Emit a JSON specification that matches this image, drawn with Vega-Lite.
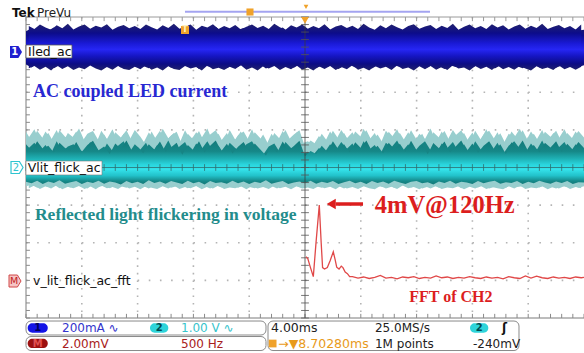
{
"$schema":"https://vega.github.io/schema/vega-lite/v6.json",
"width":584,"height":353,"autosize":{"type":"none"},"padding":0,
"background":"white",
"config":{"view":{"stroke":null}},
"datasets":{
"wave":[
{"x":0,"b1":3.62,"b2":2.74,"t1":0.95,"t2":0.62,"t3":-0.38,"t4":-0.50},
{"x":0.1,"b1":3.70,"b2":2.66,"t1":0.70,"t2":0.45,"t3":-0.42,"t4":-0.46},
{"x":0.2,"b1":3.58,"b2":2.78,"t1":0.98,"t2":0.70,"t3":-0.35,"t4":-0.54},
{"x":0.3,"b1":3.68,"b2":2.70,"t1":0.78,"t2":0.50,"t3":-0.44,"t4":-0.48},
{"x":0.4,"b1":3.64,"b2":2.75,"t1":0.92,"t2":0.58,"t3":-0.37,"t4":-0.52},
{"x":0.5,"b1":3.72,"b2":2.64,"t1":0.66,"t2":0.40,"t3":-0.41,"t4":-0.45},
{"x":0.6,"b1":3.60,"b2":2.72,"t1":0.99,"t2":0.66,"t3":-0.34,"t4":-0.55},
{"x":0.7,"b1":3.66,"b2":2.77,"t1":0.82,"t2":0.52,"t3":-0.43,"t4":-0.49},
{"x":0.8,"b1":3.70,"b2":2.68,"t1":0.74,"t2":0.44,"t3":-0.39,"t4":-0.53},
{"x":0.9,"b1":3.59,"b2":2.73,"t1":0.96,"t2":0.68,"t3":-0.36,"t4":-0.47},
{"x":1.0,"b1":3.67,"b2":2.65,"t1":0.68,"t2":0.42,"t3":-0.44,"t4":-0.51},
{"x":1.1,"b1":3.73,"b2":2.76,"t1":0.90,"t2":0.60,"t3":-0.38,"t4":-0.56},
{"x":1.2,"b1":3.61,"b2":2.70,"t1":0.97,"t2":0.71,"t3":-0.41,"t4":-0.46},
{"x":1.3,"b1":3.69,"b2":2.63,"t1":0.72,"t2":0.46,"t3":-0.35,"t4":-0.52},
{"x":1.4,"b1":3.63,"b2":2.74,"t1":0.88,"t2":0.56,"t3":-0.43,"t4":-0.48},
{"x":1.5,"b1":3.71,"b2":2.69,"t1":0.62,"t2":0.36,"t3":-0.37,"t4":-0.55},
{"x":1.6,"b1":3.58,"b2":2.78,"t1":0.94,"t2":0.64,"t3":-0.40,"t4":-0.47},
{"x":1.7,"b1":3.66,"b2":2.66,"t1":0.80,"t2":0.50,"t3":-0.45,"t4":-0.50},
{"x":1.8,"b1":3.62,"b2":2.72,"t1":0.99,"t2":0.72,"t3":-0.36,"t4":-0.54},
{"x":1.9,"b1":3.70,"b2":2.67,"t1":0.70,"t2":0.44,"t3":-0.42,"t4":-0.46},
{"x":2.0,"b1":3.60,"b2":2.75,"t1":0.86,"t2":0.55,"t3":-0.38,"t4":-0.53},
{"x":2.1,"b1":3.68,"b2":2.70,"t1":0.64,"t2":0.38,"t3":-0.44,"t4":-0.49},
{"x":2.2,"b1":3.64,"b2":2.64,"t1":0.93,"t2":0.62,"t3":-0.34,"t4":-0.56},
{"x":2.3,"b1":3.57,"b2":2.73,"t1":0.76,"t2":0.48,"t3":-0.41,"t4":-0.47},
{"x":2.4,"b1":3.66,"b2":2.68,"t1":0.98,"t2":0.69,"t3":-0.37,"t4":-0.51},
{"x":2.5,"b1":3.72,"b2":2.77,"t1":0.69,"t2":0.42,"t3":-0.43,"t4":-0.45},
{"x":2.6,"b1":3.60,"b2":2.65,"t1":0.85,"t2":0.54,"t3":-0.36,"t4":-0.54},
{"x":2.7,"b1":3.67,"b2":2.71,"t1":0.95,"t2":0.66,"t3":-0.40,"t4":-0.50},
{"x":2.8,"b1":3.63,"b2":2.76,"t1":0.60,"t2":0.34,"t3":-0.44,"t4":-0.48},
{"x":2.9,"b1":3.70,"b2":2.69,"t1":0.90,"t2":0.60,"t3":-0.35,"t4":-0.55},
{"x":3.0,"b1":3.58,"b2":2.74,"t1":0.74,"t2":0.46,"t3":-0.42,"t4":-0.46},
{"x":3.1,"b1":3.65,"b2":2.62,"t1":0.97,"t2":0.70,"t3":-0.38,"t4":-0.52},
{"x":3.2,"b1":3.69,"b2":2.72,"t1":0.66,"t2":0.40,"t3":-0.45,"t4":-0.49},
{"x":3.3,"b1":3.61,"b2":2.67,"t1":0.88,"t2":0.58,"t3":-0.36,"t4":-0.56},
{"x":3.4,"b1":3.74,"b2":2.75,"t1":0.99,"t2":0.72,"t3":-0.41,"t4":-0.47},
{"x":3.5,"b1":3.62,"b2":2.70,"t1":0.72,"t2":0.44,"t3":-0.39,"t4":-0.53},
{"x":3.6,"b1":3.68,"b2":2.64,"t1":0.92,"t2":0.63,"t3":-0.43,"t4":-0.50},
{"x":3.7,"b1":3.59,"b2":2.73,"t1":0.63,"t2":0.37,"t3":-0.35,"t4":-0.45},
{"x":3.8,"b1":3.66,"b2":2.68,"t1":0.86,"t2":0.55,"t3":-0.42,"t4":-0.54},
{"x":3.9,"b1":3.71,"b2":2.76,"t1":0.96,"t2":0.68,"t3":-0.37,"t4":-0.48},
{"x":4.0,"b1":3.60,"b2":2.66,"t1":0.70,"t2":0.42,"t3":-0.44,"t4":-0.52},
{"x":4.1,"b1":3.67,"b2":2.71,"t1":0.94,"t2":0.64,"t3":-0.38,"t4":-0.55},
{"x":4.2,"b1":3.63,"b2":2.74,"t1":0.78,"t2":0.48,"t3":-0.41,"t4":-0.47},
{"x":4.3,"b1":3.70,"b2":2.63,"t1":0.58,"t2":0.32,"t3":-0.34,"t4":-0.51},
{"x":4.4,"b1":3.58,"b2":2.70,"t1":0.90,"t2":0.58,"t3":-0.43,"t4":-0.49},
{"x":4.5,"b1":3.66,"b2":2.77,"t1":0.68,"t2":0.40,"t3":-0.39,"t4":-0.56},
{"x":4.6,"b1":3.72,"b2":2.67,"t1":0.97,"t2":0.69,"t3":-0.36,"t4":-0.46},
{"x":4.7,"b1":3.61,"b2":2.72,"t1":0.74,"t2":0.45,"t3":-0.44,"t4":-0.53},
{"x":4.8,"b1":3.68,"b2":2.65,"t1":0.88,"t2":0.57,"t3":-0.40,"t4":-0.48},
{"x":4.9,"b1":3.64,"b2":2.74,"t1":0.99,"t2":0.71,"t3":-0.37,"t4":-0.52},
{"x":5.0,"b1":3.70,"b2":2.69,"t1":0.55,"t2":0.30,"t3":-0.42,"t4":-0.55},
{"x":5.1,"b1":3.59,"b2":2.76,"t1":0.72,"t2":0.44,"t3":-0.35,"t4":-0.47},
{"x":5.2,"b1":3.67,"b2":2.64,"t1":0.62,"t2":0.36,"t3":-0.43,"t4":-0.50},
{"x":5.3,"b1":3.62,"b2":2.71,"t1":0.90,"t2":0.58,"t3":-0.38,"t4":-0.54},
{"x":5.4,"b1":3.73,"b2":2.67,"t1":0.70,"t2":0.42,"t3":-0.41,"t4":-0.46},
{"x":5.5,"b1":3.60,"b2":2.75,"t1":0.98,"t2":0.70,"t3":-0.36,"t4":-0.52},
{"x":5.6,"b1":3.68,"b2":2.62,"t1":0.76,"t2":0.48,"t3":-0.44,"t4":-0.49},
{"x":5.7,"b1":3.65,"b2":2.70,"t1":0.92,"t2":0.62,"t3":-0.39,"t4":-0.56},
{"x":5.8,"b1":3.71,"b2":2.73,"t1":0.66,"t2":0.40,"t3":-0.35,"t4":-0.48},
{"x":5.9,"b1":3.58,"b2":2.66,"t1":0.96,"t2":0.67,"t3":-0.42,"t4":-0.51},
{"x":6.0,"b1":3.66,"b2":2.74,"t1":0.82,"t2":0.52,"t3":-0.38,"t4":-0.53},
{"x":6.1,"b1":3.70,"b2":2.68,"t1":0.99,"t2":0.72,"t3":-0.44,"t4":-0.46},
{"x":6.2,"b1":3.61,"b2":2.63,"t1":0.70,"t2":0.43,"t3":-0.36,"t4":-0.55},
{"x":6.3,"b1":3.69,"b2":2.72,"t1":0.88,"t2":0.58,"t3":-0.41,"t4":-0.49},
{"x":6.4,"b1":3.63,"b2":2.77,"t1":0.64,"t2":0.38,"t3":-0.37,"t4":-0.52},
{"x":6.5,"b1":3.74,"b2":2.65,"t1":0.95,"t2":0.66,"t3":-0.43,"t4":-0.47},
{"x":6.6,"b1":3.60,"b2":2.71,"t1":0.78,"t2":0.49,"t3":-0.35,"t4":-0.54},
{"x":6.7,"b1":3.67,"b2":2.68,"t1":0.92,"t2":0.63,"t3":-0.40,"t4":-0.50},
{"x":6.8,"b1":3.62,"b2":2.75,"t1":0.68,"t2":0.41,"t3":-0.44,"t4":-0.45},
{"x":6.9,"b1":3.70,"b2":2.64,"t1":0.99,"t2":0.71,"t3":-0.38,"t4":-0.53},
{"x":7.0,"b1":3.59,"b2":2.70,"t1":0.74,"t2":0.46,"t3":-0.36,"t4":-0.48},
{"x":7.1,"b1":3.68,"b2":2.73,"t1":0.90,"t2":0.60,"t3":-0.42,"t4":-0.56},
{"x":7.2,"b1":3.64,"b2":2.66,"t1":0.60,"t2":0.35,"t3":-0.39,"t4":-0.51},
{"x":7.3,"b1":3.71,"b2":2.76,"t1":0.94,"t2":0.65,"t3":-0.45,"t4":-0.47},
{"x":7.4,"b1":3.60,"b2":2.69,"t1":0.80,"t2":0.51,"t3":-0.37,"t4":-0.54},
{"x":7.5,"b1":3.66,"b2":2.62,"t1":0.97,"t2":0.69,"t3":-0.41,"t4":-0.49},
{"x":7.6,"b1":3.72,"b2":2.72,"t1":0.68,"t2":0.40,"t3":-0.35,"t4":-0.52},
{"x":7.7,"b1":3.58,"b2":2.67,"t1":0.86,"t2":0.56,"t3":-0.43,"t4":-0.46},
{"x":7.8,"b1":3.67,"b2":2.74,"t1":0.99,"t2":0.72,"t3":-0.38,"t4":-0.55},
{"x":7.9,"b1":3.63,"b2":2.70,"t1":0.72,"t2":0.44,"t3":-0.40,"t4":-0.50},
{"x":8.0,"b1":3.70,"b2":2.65,"t1":0.93,"t2":0.64,"t3":-0.44,"t4":-0.48},
{"x":8.1,"b1":3.61,"b2":2.73,"t1":0.65,"t2":0.39,"t3":-0.36,"t4":-0.53},
{"x":8.2,"b1":3.69,"b2":2.68,"t1":0.88,"t2":0.58,"t3":-0.42,"t4":-0.47},
{"x":8.3,"b1":3.64,"b2":2.76,"t1":0.98,"t2":0.70,"t3":-0.38,"t4":-0.56},
{"x":8.4,"b1":3.72,"b2":2.63,"t1":0.74,"t2":0.46,"t3":-0.35,"t4":-0.51},
{"x":8.5,"b1":3.59,"b2":2.71,"t1":0.91,"t2":0.62,"t3":-0.43,"t4":-0.49},
{"x":8.6,"b1":3.67,"b2":2.67,"t1":0.62,"t2":0.36,"t3":-0.39,"t4":-0.54},
{"x":8.7,"b1":3.62,"b2":2.74,"t1":0.96,"t2":0.67,"t3":-0.41,"t4":-0.46},
{"x":8.8,"b1":3.70,"b2":2.69,"t1":0.78,"t2":0.50,"t3":-0.36,"t4":-0.52},
{"x":8.9,"b1":3.65,"b2":2.64,"t1":0.99,"t2":0.72,"t3":-0.44,"t4":-0.50},
{"x":9.0,"b1":3.60,"b2":2.72,"t1":0.70,"t2":0.43,"t3":-0.38,"t4":-0.55},
{"x":9.1,"b1":3.68,"b2":2.77,"t1":0.90,"t2":0.60,"t3":-0.42,"t4":-0.48},
{"x":9.2,"b1":3.63,"b2":2.66,"t1":0.66,"t2":0.40,"t3":-0.35,"t4":-0.53},
{"x":9.3,"b1":3.71,"b2":2.70,"t1":0.95,"t2":0.66,"t3":-0.40,"t4":-0.47},
{"x":9.4,"b1":3.59,"b2":2.74,"t1":0.82,"t2":0.53,"t3":-0.43,"t4":-0.51},
{"x":9.5,"b1":3.66,"b2":2.65,"t1":0.98,"t2":0.70,"t3":-0.37,"t4":-0.56},
{"x":9.6,"b1":3.72,"b2":2.71,"t1":0.68,"t2":0.41,"t3":-0.41,"t4":-0.49},
{"x":9.7,"b1":3.61,"b2":2.68,"t1":0.92,"t2":0.63,"t3":-0.36,"t4":-0.52},
{"x":9.8,"b1":3.68,"b2":2.75,"t1":0.76,"t2":0.47,"t3":-0.44,"t4":-0.46},
{"x":9.9,"b1":3.64,"b2":2.67,"t1":0.97,"t2":0.68,"t3":-0.39,"t4":-0.54},
{"x":10.0,"b1":3.66,"b2":2.72,"t1":0.80,"t2":0.52,"t3":-0.40,"t4":-0.50}
],
"wave2":[
{"x":0.05,"b1":3.76,"b2":2.64,"t1":0.80,"t2":0.52,"t4":-0.55},
{"x":0.15,"b1":3.68,"b2":2.70,"t1":1.02,"t2":0.66,"t4":-0.48},
{"x":0.25,"b1":3.80,"b2":2.60,"t1":0.68,"t2":0.44,"t4":-0.57},
{"x":0.35,"b1":3.72,"b2":2.68,"t1":0.96,"t2":0.60,"t4":-0.50},
{"x":0.45,"b1":3.66,"b2":2.58,"t1":0.74,"t2":0.38,"t4":-0.56},
{"x":0.55,"b1":3.78,"b2":2.72,"t1":1.00,"t2":0.70,"t4":-0.47},
{"x":0.65,"b1":3.70,"b2":2.62,"t1":0.64,"t2":0.42,"t4":-0.58},
{"x":0.75,"b1":3.82,"b2":2.69,"t1":0.92,"t2":0.56,"t4":-0.51},
{"x":0.85,"b1":3.67,"b2":2.59,"t1":0.80,"t2":0.62,"t4":-0.55},
{"x":0.95,"b1":3.75,"b2":2.66,"t1":1.04,"t2":0.48,"t4":-0.49},
{"x":1.05,"b1":3.80,"b2":2.61,"t1":0.70,"t2":0.40,"t4":-0.57},
{"x":1.15,"b1":3.69,"b2":2.71,"t1":0.94,"t2":0.68,"t4":-0.50},
{"x":1.25,"b1":3.77,"b2":2.63,"t1":0.62,"t2":0.52,"t4":-0.58},
{"x":1.35,"b1":3.72,"b2":2.58,"t1":0.98,"t2":0.34,"t4":-0.48},
{"x":1.45,"b1":3.81,"b2":2.67,"t1":0.76,"t2":0.64,"t4":-0.55},
{"x":1.55,"b1":3.66,"b2":2.60,"t1":1.02,"t2":0.44,"t4":-0.52},
{"x":1.65,"b1":3.74,"b2":2.70,"t1":0.66,"t2":0.58,"t4":-0.57},
{"x":1.75,"b1":3.79,"b2":2.62,"t1":0.90,"t2":0.70,"t4":-0.47},
{"x":1.85,"b1":3.70,"b2":2.59,"t1":0.72,"t2":0.40,"t4":-0.56},
{"x":1.95,"b1":3.76,"b2":2.68,"t1":1.00,"t2":0.62,"t4":-0.51},
{"x":2.05,"b1":3.68,"b2":2.61,"t1":0.82,"t2":0.48,"t4":-0.58},
{"x":2.15,"b1":3.80,"b2":2.72,"t1":0.60,"t2":0.66,"t4":-0.49},
{"x":2.25,"b1":3.73,"b2":2.60,"t1":0.96,"t2":0.36,"t4":-0.54},
{"x":2.35,"b1":3.67,"b2":2.66,"t1":0.70,"t2":0.60,"t4":-0.57},
{"x":2.45,"b1":3.78,"b2":2.58,"t1":1.03,"t2":0.46,"t4":-0.50},
{"x":2.55,"b1":3.71,"b2":2.69,"t1":0.78,"t2":0.72,"t4":-0.56},
{"x":2.65,"b1":3.82,"b2":2.62,"t1":0.92,"t2":0.42,"t4":-0.48},
{"x":2.75,"b1":3.69,"b2":2.59,"t1":0.64,"t2":0.56,"t4":-0.57},
{"x":2.85,"b1":3.75,"b2":2.70,"t1":0.99,"t2":0.68,"t4":-0.52},
{"x":2.95,"b1":3.80,"b2":2.63,"t1":0.72,"t2":0.38,"t4":-0.55},
{"x":3.05,"b1":3.66,"b2":2.67,"t1":0.94,"t2":0.64,"t4":-0.49},
{"x":3.15,"b1":3.77,"b2":2.58,"t1":0.80,"t2":0.50,"t4":-0.58},
{"x":3.25,"b1":3.72,"b2":2.71,"t1":1.04,"t2":0.70,"t4":-0.51},
{"x":3.35,"b1":3.81,"b2":2.61,"t1":0.68,"t2":0.44,"t4":-0.56},
{"x":3.45,"b1":3.68,"b2":2.65,"t1":0.90,"t2":0.58,"t4":-0.48},
{"x":3.55,"b1":3.76,"b2":2.59,"t1":0.62,"t2":0.36,"t4":-0.57},
{"x":3.65,"b1":3.70,"b2":2.68,"t1":1.00,"t2":0.66,"t4":-0.53},
{"x":3.75,"b1":3.79,"b2":2.62,"t1":0.74,"t2":0.52,"t4":-0.55},
{"x":3.85,"b1":3.67,"b2":2.72,"t1":0.96,"t2":0.42,"t4":-0.50},
{"x":3.95,"b1":3.74,"b2":2.60,"t1":0.70,"t2":0.62,"t4":-0.58},
{"x":4.05,"b1":3.80,"b2":2.66,"t1":1.02,"t2":0.70,"t4":-0.49},
{"x":4.15,"b1":3.71,"b2":2.58,"t1":0.66,"t2":0.46,"t4":-0.56},
{"x":4.25,"b1":3.77,"b2":2.69,"t1":0.88,"t2":0.34,"t4":-0.52},
{"x":4.35,"b1":3.68,"b2":2.63,"t1":0.60,"t2":0.56,"t4":-0.57},
{"x":4.45,"b1":3.82,"b2":2.70,"t1":0.92,"t2":0.64,"t4":-0.48},
{"x":4.55,"b1":3.73,"b2":2.59,"t1":0.76,"t2":0.40,"t4":-0.55},
{"x":4.65,"b1":3.66,"b2":2.67,"t1":1.00,"t2":0.68,"t4":-0.51},
{"x":4.75,"b1":3.78,"b2":2.61,"t1":0.70,"t2":0.52,"t4":-0.58},
{"x":4.85,"b1":3.72,"b2":2.71,"t1":0.94,"t2":0.44,"t4":-0.50},
{"x":4.95,"b1":3.80,"b2":2.60,"t1":0.64,"t2":0.36,"t4":-0.56},
{"x":5.05,"b1":3.69,"b2":2.66,"t1":0.70,"t2":0.42,"t4":-0.53},
{"x":5.15,"b1":3.76,"b2":2.58,"t1":0.60,"t2":0.34,"t4":-0.57},
{"x":5.25,"b1":3.70,"b2":2.69,"t1":0.84,"t2":0.52,"t4":-0.49},
{"x":5.35,"b1":3.81,"b2":2.62,"t1":0.66,"t2":0.40,"t4":-0.55},
{"x":5.45,"b1":3.67,"b2":2.70,"t1":0.96,"t2":0.62,"t4":-0.51},
{"x":5.55,"b1":3.75,"b2":2.59,"t1":0.72,"t2":0.46,"t4":-0.58},
{"x":5.65,"b1":3.79,"b2":2.67,"t1":1.00,"t2":0.68,"t4":-0.48},
{"x":5.75,"b1":3.71,"b2":2.61,"t1":0.78,"t2":0.50,"t4":-0.56},
{"x":5.85,"b1":3.77,"b2":2.72,"t1":0.94,"t2":0.64,"t4":-0.52},
{"x":5.95,"b1":3.68,"b2":2.60,"t1":0.68,"t2":0.38,"t4":-0.57},
{"x":6.05,"b1":3.82,"b2":2.65,"t1":1.03,"t2":0.70,"t4":-0.50},
{"x":6.15,"b1":3.72,"b2":2.58,"t1":0.74,"t2":0.48,"t4":-0.55},
{"x":6.25,"b1":3.66,"b2":2.70,"t1":0.92,"t2":0.60,"t4":-0.58},
{"x":6.35,"b1":3.78,"b2":2.63,"t1":0.62,"t2":0.36,"t4":-0.49},
{"x":6.45,"b1":3.70,"b2":2.68,"t1":0.98,"t2":0.66,"t4":-0.56},
{"x":6.55,"b1":3.80,"b2":2.59,"t1":0.80,"t2":0.54,"t4":-0.51},
{"x":6.65,"b1":3.73,"b2":2.71,"t1":1.02,"t2":0.72,"t4":-0.57},
{"x":6.75,"b1":3.67,"b2":2.62,"t1":0.70,"t2":0.44,"t4":-0.48},
{"x":6.85,"b1":3.76,"b2":2.66,"t1":0.94,"t2":0.62,"t4":-0.55},
{"x":6.95,"b1":3.81,"b2":2.58,"t1":0.66,"t2":0.40,"t4":-0.52},
{"x":7.05,"b1":3.69,"b2":2.69,"t1":0.90,"t2":0.58,"t4":-0.58},
{"x":7.15,"b1":3.75,"b2":2.61,"t1":0.76,"t2":0.70,"t4":-0.50},
{"x":7.25,"b1":3.79,"b2":2.70,"t1":1.04,"t2":0.46,"t4":-0.56},
{"x":7.35,"b1":3.68,"b2":2.60,"t1":0.68,"t2":0.36,"t4":-0.49},
{"x":7.45,"b1":3.77,"b2":2.67,"t1":0.96,"t2":0.64,"t4":-0.57},
{"x":7.55,"b1":3.71,"b2":2.59,"t1":0.72,"t2":0.52,"t4":-0.53},
{"x":7.65,"b1":3.82,"b2":2.72,"t1":1.00,"t2":0.68,"t4":-0.55},
{"x":7.75,"b1":3.66,"b2":2.63,"t1":0.78,"t2":0.42,"t4":-0.50},
{"x":7.85,"b1":3.74,"b2":2.66,"t1":0.92,"t2":0.62,"t4":-0.58},
{"x":7.95,"b1":3.80,"b2":2.58,"t1":0.64,"t2":0.38,"t4":-0.51},
{"x":8.05,"b1":3.70,"b2":2.70,"t1":0.98,"t2":0.70,"t4":-0.56},
{"x":8.15,"b1":3.76,"b2":2.62,"t1":0.74,"t2":0.48,"t4":-0.49},
{"x":8.25,"b1":3.68,"b2":2.68,"t1":1.02,"t2":0.60,"t4":-0.57},
{"x":8.35,"b1":3.81,"b2":2.59,"t1":0.70,"t2":0.44,"t4":-0.52},
{"x":8.45,"b1":3.72,"b2":2.71,"t1":0.94,"t2":0.66,"t4":-0.55},
{"x":8.55,"b1":3.78,"b2":2.61,"t1":0.62,"t2":0.36,"t4":-0.58},
{"x":8.65,"b1":3.67,"b2":2.67,"t1":0.90,"t2":0.58,"t4":-0.50},
{"x":8.75,"b1":3.75,"b2":2.60,"t1":0.80,"t2":0.70,"t4":-0.56},
{"x":8.85,"b1":3.80,"b2":2.70,"t1":1.03,"t2":0.50,"t4":-0.48},
{"x":8.95,"b1":3.69,"b2":2.63,"t1":0.68,"t2":0.40,"t4":-0.57},
{"x":9.05,"b1":3.77,"b2":2.58,"t1":0.96,"t2":0.64,"t4":-0.53},
{"x":9.15,"b1":3.71,"b2":2.69,"t1":0.74,"t2":0.46,"t4":-0.55},
{"x":9.25,"b1":3.82,"b2":2.62,"t1":1.00,"t2":0.72,"t4":-0.50},
{"x":9.35,"b1":3.68,"b2":2.66,"t1":0.66,"t2":0.42,"t4":-0.58},
{"x":9.45,"b1":3.74,"b2":2.59,"t1":0.92,"t2":0.60,"t4":-0.51},
{"x":9.55,"b1":3.79,"b2":2.71,"t1":0.78,"t2":0.54,"t4":-0.56},
{"x":9.65,"b1":3.70,"b2":2.61,"t1":1.02,"t2":0.68,"t4":-0.49},
{"x":9.75,"b1":3.76,"b2":2.67,"t1":0.70,"t2":0.40,"t4":-0.57},
{"x":9.85,"b1":3.67,"b2":2.60,"t1":0.96,"t2":0.62,"t4":-0.52},
{"x":9.95,"b1":3.80,"b2":2.68,"t1":0.74,"t2":0.48,"t4":-0.55}
],
"fft":[
{"f":5.018,"a":-2.37},{"f":5.05,"a":-2.42},{"f":5.09,"a":-2.62},{"f":5.149,"a":-2.90},{"f":5.20,"a":-1.95},{"f":5.256,"a":-1.00},{"f":5.29,"a":-2.00},{"f":5.315,"a":-2.66},{"f":5.35,"a":-2.70},{"f":5.40,"a":-2.66},{"f":5.45,"a":-2.48},{"f":5.507,"a":-2.24},{"f":5.54,"a":-2.45},{"f":5.568,"a":-2.65},{"f":5.61,"a":-2.70},{"f":5.65,"a":-2.62},{"f":5.68,"a":-2.66},{"f":5.72,"a":-2.78},{"f":5.76,"a":-2.82},{"f":5.80,"a":-2.90},
{"f":5.85,"a":-2.90},{"f":5.95,"a":-2.94},{"f":6.05,"a":-2.91},{"f":6.15,"a":-2.95},{"f":6.25,"a":-2.92},{"f":6.35,"a":-2.87},{"f":6.45,"a":-2.94},{"f":6.55,"a":-2.92},{"f":6.65,"a":-2.96},{"f":6.75,"a":-2.91},{"f":6.85,"a":-2.93},{"f":6.95,"a":-2.90},{"f":7.05,"a":-2.95},{"f":7.15,"a":-2.92},{"f":7.25,"a":-2.94},{"f":7.35,"a":-2.88},{"f":7.45,"a":-2.93},{"f":7.55,"a":-2.91},{"f":7.65,"a":-2.95},{"f":7.75,"a":-2.92},{"f":7.85,"a":-2.94},{"f":7.95,"a":-2.90},{"f":8.05,"a":-2.93},{"f":8.15,"a":-2.95},{"f":8.25,"a":-2.91},{"f":8.35,"a":-2.94},{"f":8.45,"a":-2.92},{"f":8.55,"a":-2.96},{"f":8.65,"a":-2.90},{"f":8.75,"a":-2.93},{"f":8.85,"a":-2.95},{"f":8.95,"a":-2.88},{"f":9.05,"a":-2.94},{"f":9.15,"a":-2.89},{"f":9.25,"a":-2.93},{"f":9.35,"a":-2.95},{"f":9.45,"a":-2.91},{"f":9.55,"a":-2.94},{"f":9.65,"a":-2.92},{"f":9.75,"a":-2.95},{"f":9.85,"a":-2.91},{"f":9.95,"a":-2.93},{"f":10.0,"a":-2.92}
],
"tx":[{"p":0},{"p":0.2},{"p":0.4},{"p":0.6},{"p":0.8},{"p":1},{"p":1.2},{"p":1.4},{"p":1.6},{"p":1.8},{"p":2},{"p":2.2},{"p":2.4},{"p":2.6},{"p":2.8},{"p":3},{"p":3.2},{"p":3.4},{"p":3.6},{"p":3.8},{"p":4},{"p":4.2},{"p":4.4},{"p":4.6},{"p":4.8},{"p":5},{"p":5.2},{"p":5.4},{"p":5.6},{"p":5.8},{"p":6},{"p":6.2},{"p":6.4},{"p":6.6},{"p":6.8},{"p":7},{"p":7.2},{"p":7.4},{"p":7.6},{"p":7.8},{"p":8},{"p":8.2},{"p":8.4},{"p":8.6},{"p":8.8},{"p":9},{"p":9.2},{"p":9.4},{"p":9.6},{"p":9.8},{"p":10}],
"ty":[{"p":-4},{"p":-3.8},{"p":-3.6},{"p":-3.4},{"p":-3.2},{"p":-3},{"p":-2.8},{"p":-2.6},{"p":-2.4},{"p":-2.2},{"p":-2},{"p":-1.8},{"p":-1.6},{"p":-1.4},{"p":-1.2},{"p":-1},{"p":-0.8},{"p":-0.6},{"p":-0.4},{"p":-0.2},{"p":0},{"p":0.2},{"p":0.4},{"p":0.6},{"p":0.8},{"p":1},{"p":1.2},{"p":1.4},{"p":1.6},{"p":1.8},{"p":2},{"p":2.2},{"p":2.4},{"p":2.6},{"p":2.8},{"p":3},{"p":3.2},{"p":3.4},{"p":3.6},{"p":3.8},{"p":4}],
"gv":[{"g":1},{"g":2},{"g":3},{"g":4},{"g":6},{"g":7},{"g":8},{"g":9}],
"gh":[{"g":-3},{"g":-2},{"g":-1},{"g":1},{"g":2},{"g":3}]
},
"layer":[
{"data":{"name":"gv"},"mark":{"type":"rule","color":"#b4b4b4","strokeWidth":1.6,"strokeDash":[1.6,5.925]},
 "encoding":{"x":{"field":"g","type":"quantitative","scale":{"domain":[-0.466,10],"nice":false,"zero":false},"axis":null},"y":{"datum":4,"type":"quantitative","scale":{"domain":[-4.93,4.452],"nice":false,"zero":false},"axis":null},"y2":{"datum":-4}}},
{"data":{"name":"gh"},"mark":{"type":"rule","color":"#b4b4b4","strokeWidth":1.6,"strokeDash":[1.6,9.56]},
 "encoding":{"y":{"field":"g","type":"quantitative","scale":{"domain":[-4.93,4.452],"nice":false,"zero":false},"axis":null},"x":{"datum":0,"type":"quantitative","scale":{"domain":[-0.466,10],"nice":false,"zero":false},"axis":null},"x2":{"datum":10}}},
{"data":{"values":[{}]},"mark":{"type":"rule","color":"#9a9a9a","strokeWidth":1},
 "encoding":{"x":{"datum":0,"type":"quantitative","scale":{"domain":[-0.466,10],"nice":false,"zero":false},"axis":null},"x2":{"datum":10},"y":{"datum":4,"type":"quantitative","scale":{"domain":[-4.93,4.452],"nice":false,"zero":false},"axis":null}}},
{"data":{"values":[{}]},"mark":{"type":"rule","color":"#7a7a7a","strokeWidth":1},
 "encoding":{"x":{"datum":0,"type":"quantitative","scale":{"domain":[-0.466,10],"nice":false,"zero":false},"axis":null},"x2":{"datum":10},"y":{"datum":-4,"type":"quantitative","scale":{"domain":[-4.93,4.452],"nice":false,"zero":false},"axis":null}}},
{"data":{"values":[{}]},"mark":{"type":"rule","color":"#7a7a7a","strokeWidth":1},
 "encoding":{"x":{"datum":0,"type":"quantitative","scale":{"domain":[-0.466,10],"nice":false,"zero":false},"axis":null},"y":{"datum":4,"type":"quantitative","scale":{"domain":[-4.93,4.452],"nice":false,"zero":false},"axis":null},"y2":{"datum":-4}}},
{"data":{"name":"tx"},"mark":{"type":"rule","color":"#9a9a9a","strokeWidth":1},
 "encoding":{"x":{"field":"p","type":"quantitative","scale":{"domain":[-0.466,10],"nice":false,"zero":false},"axis":null},"y":{"datum":4,"type":"quantitative","scale":{"domain":[-4.93,4.452],"nice":false,"zero":false},"axis":null},"y2":{"datum":3.89}}},
{"data":{"name":"tx"},"mark":{"type":"rule","color":"#8a8a8a","strokeWidth":1},
 "encoding":{"x":{"field":"p","type":"quantitative","scale":{"domain":[-0.466,10],"nice":false,"zero":false},"axis":null},"y":{"datum":-4,"type":"quantitative","scale":{"domain":[-4.93,4.452],"nice":false,"zero":false},"axis":null},"y2":{"datum":-3.89}}},
{"data":{"name":"ty"},"mark":{"type":"rule","color":"#8a8a8a","strokeWidth":1},
 "encoding":{"y":{"field":"p","type":"quantitative","scale":{"domain":[-4.93,4.452],"nice":false,"zero":false},"axis":null},"x":{"datum":0,"type":"quantitative","scale":{"domain":[-0.466,10],"nice":false,"zero":false},"axis":null},"x2":{"datum":0.07}}},
{"data":{"name":"wave"},"mark":{"type":"area","interpolate":"linear","color":{"gradient":"linear","x1":0,"y1":0,"x2":0,"y2":1,"stops":[{"offset":0,"color":"#1a1a6a"},{"offset":0.2,"color":"#0c0c8a"},{"offset":0.42,"color":"#1a1ad6"},{"offset":0.55,"color":"#2626f4"},{"offset":0.7,"color":"#1515c0"},{"offset":0.86,"color":"#0c0c84"},{"offset":1,"color":"#1a1a66"}]}},
 "encoding":{"x":{"field":"x","type":"quantitative","scale":{"domain":[-0.466,10],"nice":false,"zero":false},"axis":null},"y":{"field":"b1","type":"quantitative","scale":{"domain":[-4.93,4.452],"nice":false,"zero":false},"axis":null},"y2":{"field":"b2"}}},
{"data":{"name":"wave2"},"mark":{"type":"area","interpolate":"linear","color":{"gradient":"linear","x1":0,"y1":0,"x2":0,"y2":1,"stops":[{"offset":0,"color":"#22226e"},{"offset":0.2,"color":"#0c0c8a"},{"offset":0.42,"color":"#1a1ad6"},{"offset":0.55,"color":"#2626f4"},{"offset":0.7,"color":"#1515c0"},{"offset":0.86,"color":"#0c0c84"},{"offset":1,"color":"#22226a"}]}},
 "encoding":{"x":{"field":"x","type":"quantitative","scale":{"domain":[-0.466,10],"nice":false,"zero":false},"axis":null},"y":{"field":"b1","type":"quantitative","scale":{"domain":[-4.93,4.452],"nice":false,"zero":false},"axis":null},"y2":{"field":"b2"}}},
{"data":{"name":"wave"},"mark":{"type":"area","interpolate":"linear","color":"#98cece"},
 "encoding":{"x":{"field":"x","type":"quantitative","scale":{"domain":[-0.466,10],"nice":false,"zero":false},"axis":null},"y":{"field":"t1","type":"quantitative","scale":{"domain":[-4.93,4.452],"nice":false,"zero":false},"axis":null},"y2":{"field":"t4"}}},
{"data":{"name":"wave2"},"mark":{"type":"area","interpolate":"linear","color":"#98cece"},
 "encoding":{"x":{"field":"x","type":"quantitative","scale":{"domain":[-0.466,10],"nice":false,"zero":false},"axis":null},"y":{"field":"t1","type":"quantitative","scale":{"domain":[-4.93,4.452],"nice":false,"zero":false},"axis":null},"y2":{"field":"t4"}}},
{"data":{"name":"wave2"},"mark":{"type":"area","interpolate":"linear","color":"#168484"},
 "encoding":{"x":{"field":"x","type":"quantitative","scale":{"domain":[-0.466,10],"nice":false,"zero":false},"axis":null},"y":{"field":"t2","type":"quantitative","scale":{"domain":[-4.93,4.452],"nice":false,"zero":false},"axis":null},"y2":{"datum":0.3}}},
{"data":{"name":"wave"},"mark":{"type":"area","interpolate":"linear","color":{"gradient":"linear","x1":0,"y1":0,"x2":0,"y2":1,"stops":[{"offset":0,"color":"#137a7a"},{"offset":0.25,"color":"#168888"},{"offset":0.42,"color":"#1fb2b6"},{"offset":0.55,"color":"#2ad6de"},{"offset":0.66,"color":"#34e2ea"},{"offset":0.8,"color":"#22c2ca"},{"offset":0.92,"color":"#168a8a"},{"offset":1,"color":"#137a7a"}]}},
 "encoding":{"x":{"field":"x","type":"quantitative","scale":{"domain":[-0.466,10],"nice":false,"zero":false},"axis":null},"y":{"field":"t2","type":"quantitative","scale":{"domain":[-4.93,4.452],"nice":false,"zero":false},"axis":null},"y2":{"field":"t3"}}},
{"data":{"values":[{}]},"mark":{"type":"rule","color":"#2f6f70","strokeWidth":1,"opacity":0.8},
 "encoding":{"x":{"datum":0,"type":"quantitative","scale":{"domain":[-0.466,10],"nice":false,"zero":false},"axis":null},"x2":{"datum":10},"y":{"datum":0,"type":"quantitative","scale":{"domain":[-4.93,4.452],"nice":false,"zero":false},"axis":null}}},
{"data":{"name":"tx"},"mark":{"type":"rule","color":"#2f6f70","strokeWidth":1,"opacity":0.8},
 "encoding":{"x":{"field":"p","type":"quantitative","scale":{"domain":[-0.466,10],"nice":false,"zero":false},"axis":null},"y":{"datum":0.09,"type":"quantitative","scale":{"domain":[-4.93,4.452],"nice":false,"zero":false},"axis":null},"y2":{"datum":-0.09}}},
{"data":{"values":[{}]},"mark":{"type":"rule","color":"#3a3a3a","strokeWidth":1,"opacity":0.75},
 "encoding":{"x":{"datum":5,"type":"quantitative","scale":{"domain":[-0.466,10],"nice":false,"zero":false},"axis":null},"y":{"datum":4,"type":"quantitative","scale":{"domain":[-4.93,4.452],"nice":false,"zero":false},"axis":null},"y2":{"datum":-4}}},
{"data":{"name":"ty"},"mark":{"type":"rule","color":"#555555","strokeWidth":1,"opacity":0.8},
 "encoding":{"y":{"field":"p","type":"quantitative","scale":{"domain":[-4.93,4.452],"nice":false,"zero":false},"axis":null},"x":{"datum":4.93,"type":"quantitative","scale":{"domain":[-0.466,10],"nice":false,"zero":false},"axis":null},"x2":{"datum":5.07}}},
{"data":{"name":"fft"},"mark":{"type":"line","color":"#e04848","strokeWidth":1.3},
 "encoding":{"x":{"field":"f","type":"quantitative","scale":{"domain":[-0.466,10],"nice":false,"zero":false},"axis":null},"y":{"field":"a","type":"quantitative","scale":{"domain":[-4.93,4.452],"nice":false,"zero":false},"axis":null}}},
{"data":{"values":[{}]},"mark":{"type":"rule","color":"#a4a4f0","strokeWidth":2},
 "encoding":{"x":{"datum":2.849,"type":"quantitative","scale":{"domain":[-0.466,10],"nice":false,"zero":false},"axis":null},"x2":{"datum":7.24},"y":{"datum":4.141,"type":"quantitative","scale":{"domain":[-4.93,4.452],"nice":false,"zero":false},"axis":null}}},
{"data":{"values":[{}]},"mark":{"type":"point","shape":"square","filled":true,"size":50,"color":"#f0a22a","opacity":1},
 "encoding":{"x":{"datum":4.014,"type":"quantitative","scale":{"domain":[-0.466,10],"nice":false,"zero":false},"axis":null},"y":{"datum":4.133,"type":"quantitative","scale":{"domain":[-4.93,4.452],"nice":false,"zero":false},"axis":null}}},
{"data":{"values":[{}]},"mark":{"type":"point","shape":"triangle-down","filled":true,"size":22,"color":"#f0a22a","opacity":1},
 "encoding":{"x":{"datum":5.018,"type":"quantitative","scale":{"domain":[-0.466,10],"nice":false,"zero":false},"axis":null},"y":{"datum":4.27,"type":"quantitative","scale":{"domain":[-4.93,4.452],"nice":false,"zero":false},"axis":null}}},
{"data":{"values":[{}]},"mark":{"type":"point","shape":"triangle-down","filled":true,"size":60,"color":"#f0a22a","opacity":1},
 "encoding":{"x":{"datum":5.0,"type":"quantitative","scale":{"domain":[-0.466,10],"nice":false,"zero":false},"axis":null},"y":{"datum":3.91,"type":"quantitative","scale":{"domain":[-4.93,4.452],"nice":false,"zero":false},"axis":null}}},
{"data":{"values":[{}]},"mark":{"type":"point","shape":"square","filled":true,"size":64,"color":"#f0a22a","opacity":1},
 "encoding":{"x":{"datum":2.849,"type":"quantitative","scale":{"domain":[-0.466,10],"nice":false,"zero":false},"axis":null},"y":{"datum":3.654,"type":"quantitative","scale":{"domain":[-4.93,4.452],"nice":false,"zero":false},"axis":null}}},
{"data":{"values":[{}]},"mark":{"type":"text","text":"T","font":"DejaVu Sans","fontWeight":"bold","fontSize":8,"color":"#fff2c0","align":"center","baseline":"middle"},
 "encoding":{"x":{"datum":2.849,"type":"quantitative","scale":{"domain":[-0.466,10],"nice":false,"zero":false},"axis":null},"y":{"datum":3.654,"type":"quantitative","scale":{"domain":[-4.93,4.452],"nice":false,"zero":false},"axis":null}}},
{"data":{"values":[{}]},"mark":{"type":"text","text":"Tek","font":"DejaVu Sans","fontWeight":"bold","fontSize":12,"color":"#111111","align":"left","baseline":"middle"},
 "encoding":{"x":{"datum":-0.251,"type":"quantitative","scale":{"domain":[-0.466,10],"nice":false,"zero":false},"axis":null},"y":{"datum":4.106,"type":"quantitative","scale":{"domain":[-4.93,4.452],"nice":false,"zero":false},"axis":null}}},
{"data":{"values":[{}]},"mark":{"type":"text","text":"PreVu","font":"DejaVu Sans","fontSize":12,"color":"#222222","align":"left","baseline":"middle"},
 "encoding":{"x":{"datum":0.197,"type":"quantitative","scale":{"domain":[-0.466,10],"nice":false,"zero":false},"axis":null},"y":{"datum":4.106,"type":"quantitative","scale":{"domain":[-4.93,4.452],"nice":false,"zero":false},"axis":null}}},
{"data":{"values":[{}]},"mark":{"type":"point","shape":"M-1,-1L0.4,-1L1,0L0.4,1L-1,1Z","filled":true,"size":144,"color":"#2020d0","opacity":1},
 "encoding":{"x":{"datum":-0.179,"type":"quantitative","scale":{"domain":[-0.466,10],"nice":false,"zero":false},"axis":null},"y":{"datum":3.07,"type":"quantitative","scale":{"domain":[-4.93,4.452],"nice":false,"zero":false},"axis":null}}},
{"data":{"values":[{}]},"mark":{"type":"text","text":"1","font":"DejaVu Sans","fontWeight":"bold","fontSize":10,"color":"#ffffff","align":"center","baseline":"middle"},
 "encoding":{"x":{"datum":-0.2,"type":"quantitative","scale":{"domain":[-0.466,10],"nice":false,"zero":false},"axis":null},"y":{"datum":3.07,"type":"quantitative","scale":{"domain":[-4.93,4.452],"nice":false,"zero":false},"axis":null}}},
{"data":{"values":[{}]},"mark":{"type":"rect","fill":"#ffffff","stroke":"#555555","strokeWidth":0.8},
 "encoding":{"x":{"datum":0,"type":"quantitative","scale":{"domain":[-0.466,10],"nice":false,"zero":false},"axis":null},"x2":{"datum":0.824},"y":{"datum":3.256,"type":"quantitative","scale":{"domain":[-4.93,4.452],"nice":false,"zero":false},"axis":null},"y2":{"datum":2.91}}},
{"data":{"values":[{}]},"mark":{"type":"text","text":"Iled_ac","font":"DejaVu Sans","fontSize":12.5,"color":"#111111","align":"left","baseline":"middle"},
 "encoding":{"x":{"datum":0.036,"type":"quantitative","scale":{"domain":[-0.466,10],"nice":false,"zero":false},"axis":null},"y":{"datum":3.083,"type":"quantitative","scale":{"domain":[-4.93,4.452],"nice":false,"zero":false},"axis":null}}},
{"data":{"values":[{}]},"mark":{"type":"point","shape":"M-1,-1L0.4,-1L1,0L0.4,1L-1,1Z","filled":true,"size":144,"fill":"#ffffff","stroke":"#30c4d0","strokeWidth":1.2,"opacity":1},
 "encoding":{"x":{"datum":-0.161,"type":"quantitative","scale":{"domain":[-0.466,10],"nice":false,"zero":false},"axis":null},"y":{"datum":0,"type":"quantitative","scale":{"domain":[-4.93,4.452],"nice":false,"zero":false},"axis":null}}},
{"data":{"values":[{}]},"mark":{"type":"text","text":"2","font":"DejaVu Sans","fontSize":10,"color":"#30c4d0","align":"center","baseline":"middle"},
 "encoding":{"x":{"datum":-0.18,"type":"quantitative","scale":{"domain":[-0.466,10],"nice":false,"zero":false},"axis":null},"y":{"datum":0,"type":"quantitative","scale":{"domain":[-4.93,4.452],"nice":false,"zero":false},"axis":null}}},
{"data":{"values":[{}]},"mark":{"type":"rect","fill":"#ffffff","stroke":"#777777","strokeWidth":0.6},
 "encoding":{"x":{"datum":0,"type":"quantitative","scale":{"domain":[-0.466,10],"nice":false,"zero":false},"axis":null},"x2":{"datum":1.362},"y":{"datum":0.173,"type":"quantitative","scale":{"domain":[-4.93,4.452],"nice":false,"zero":false},"axis":null},"y2":{"datum":-0.199}}},
{"data":{"values":[{}]},"mark":{"type":"text","text":"Vlit_flick_ac","font":"DejaVu Sans","fontSize":12.5,"color":"#111111","align":"left","baseline":"middle"},
 "encoding":{"x":{"datum":0.03,"type":"quantitative","scale":{"domain":[-0.466,10],"nice":false,"zero":false},"axis":null},"y":{"datum":-0.01,"type":"quantitative","scale":{"domain":[-4.93,4.452],"nice":false,"zero":false},"axis":null}}},
{"data":{"values":[{}]},"mark":{"type":"point","shape":"M-1,-1L0.4,-1L1,0L0.4,1L-1,1Z","filled":true,"size":144,"fill":"#f6c4c4","stroke":"#d04848","strokeWidth":1,"opacity":1},
 "encoding":{"x":{"datum":-0.197,"type":"quantitative","scale":{"domain":[-0.466,10],"nice":false,"zero":false},"axis":null},"y":{"datum":-3.017,"type":"quantitative","scale":{"domain":[-4.93,4.452],"nice":false,"zero":false},"axis":null}}},
{"data":{"values":[{}]},"mark":{"type":"text","text":"M","font":"DejaVu Sans","fontSize":9.5,"color":"#c02020","align":"center","baseline":"middle"},
 "encoding":{"x":{"datum":-0.215,"type":"quantitative","scale":{"domain":[-0.466,10],"nice":false,"zero":false},"axis":null},"y":{"datum":-3.017,"type":"quantitative","scale":{"domain":[-4.93,4.452],"nice":false,"zero":false},"axis":null}}},
{"data":{"values":[{}]},"mark":{"type":"text","text":"v_lit_flick_ac_fft","font":"DejaVu Sans","fontSize":12.5,"color":"#111111","align":"left","baseline":"middle"},
 "encoding":{"x":{"datum":0.125,"type":"quantitative","scale":{"domain":[-0.466,10],"nice":false,"zero":false},"axis":null},"y":{"datum":-3.02,"type":"quantitative","scale":{"domain":[-4.93,4.452],"nice":false,"zero":false},"axis":null}}},
{"data":{"values":[{}]},"mark":{"type":"text","text":"AC coupled LED current","font":"Liberation Serif","fontWeight":"bold","fontSize":18,"color":"#2828d2","align":"left","baseline":"middle"},
 "encoding":{"x":{"datum":0.125,"type":"quantitative","scale":{"domain":[-0.466,10],"nice":false,"zero":false},"axis":null},"y":{"datum":2.0,"type":"quantitative","scale":{"domain":[-4.93,4.452],"nice":false,"zero":false},"axis":null}}},
{"data":{"values":[{}]},"mark":{"type":"text","text":"Reflected light flickering in voltage","font":"Liberation Serif","fontWeight":"bold","fontSize":17.5,"color":"#238c8c","align":"left","baseline":"middle"},
 "encoding":{"x":{"datum":0.161,"type":"quantitative","scale":{"domain":[-0.466,10],"nice":false,"zero":false},"axis":null},"y":{"datum":-1.262,"type":"quantitative","scale":{"domain":[-4.93,4.452],"nice":false,"zero":false},"axis":null}}},
{"data":{"values":[{}]},"mark":{"type":"rule","color":"#dc1e1e","strokeWidth":3.5},
 "encoding":{"x":{"datum":5.55,"type":"quantitative","scale":{"domain":[-0.466,10],"nice":false,"zero":false},"axis":null},"x2":{"datum":6.04},"y":{"datum":-0.97,"type":"quantitative","scale":{"domain":[-4.93,4.452],"nice":false,"zero":false},"axis":null}}},
{"data":{"values":[{}]},"mark":{"type":"point","shape":"triangle-left","filled":true,"size":110,"color":"#dc1e1e","opacity":1},
 "encoding":{"x":{"datum":5.47,"type":"quantitative","scale":{"domain":[-0.466,10],"nice":false,"zero":false},"axis":null},"y":{"datum":-0.97,"type":"quantitative","scale":{"domain":[-4.93,4.452],"nice":false,"zero":false},"axis":null}}},
{"data":{"values":[{}]},"mark":{"type":"text","text":"4mV@120Hz","font":"Liberation Serif","fontWeight":"bold","fontSize":24.5,"color":"#dc1e1e","align":"left","baseline":"middle"},
 "encoding":{"x":{"datum":6.25,"type":"quantitative","scale":{"domain":[-0.466,10],"nice":false,"zero":false},"axis":null},"y":{"datum":-1.023,"type":"quantitative","scale":{"domain":[-4.93,4.452],"nice":false,"zero":false},"axis":null}}},
{"data":{"values":[{}]},"mark":{"type":"text","text":"FFT of CH2","font":"Liberation Serif","fontWeight":"bold","fontSize":16,"color":"#dc1e1e","align":"left","baseline":"middle"},
 "encoding":{"x":{"datum":6.869,"type":"quantitative","scale":{"domain":[-0.466,10],"nice":false,"zero":false},"axis":null},"y":{"datum":-3.434,"type":"quantitative","scale":{"domain":[-4.93,4.452],"nice":false,"zero":false},"axis":null}}},
{"data":{"values":[{}]},"mark":{"type":"rect","fill":"#ffffff","stroke":"#8a8a8a","strokeWidth":1,"cornerRadius":5},
 "encoding":{"x":{"datum":0,"type":"quantitative","scale":{"domain":[-0.466,10],"nice":false,"zero":false},"axis":null},"x2":{"datum":4.301},"y":{"datum":-4.08,"type":"quantitative","scale":{"domain":[-4.93,4.452],"nice":false,"zero":false},"axis":null},"y2":{"datum":-4.452}}},
{"data":{"values":[{}]},"mark":{"type":"rect","fill":"#ffffff","stroke":"#8a8a8a","strokeWidth":1,"cornerRadius":5},
 "encoding":{"x":{"datum":0,"type":"quantitative","scale":{"domain":[-0.466,10],"nice":false,"zero":false},"axis":null},"x2":{"datum":4.301},"y":{"datum":-4.492,"type":"quantitative","scale":{"domain":[-4.93,4.452],"nice":false,"zero":false},"axis":null},"y2":{"datum":-4.864}}},
{"data":{"values":[{}]},"mark":{"type":"rect","fill":"#ffffff","stroke":"#8a8a8a","strokeWidth":1,"cornerRadius":5},
 "encoding":{"x":{"datum":4.337,"type":"quantitative","scale":{"domain":[-0.466,10],"nice":false,"zero":false},"axis":null},"x2":{"datum":8.835},"y":{"datum":-4.08,"type":"quantitative","scale":{"domain":[-4.93,4.452],"nice":false,"zero":false},"axis":null},"y2":{"datum":-4.864}}},
{"data":{"values":[{}]},"mark":{"type":"rect","fill":"#1414e6","cornerRadius":5},
 "encoding":{"x":{"datum":0.03,"type":"quantitative","scale":{"domain":[-0.466,10],"nice":false,"zero":false},"axis":null},"x2":{"datum":0.39},"y":{"datum":-4.14,"type":"quantitative","scale":{"domain":[-4.93,4.452],"nice":false,"zero":false},"axis":null},"y2":{"datum":-4.39}}},
{"data":{"values":[{}]},"mark":{"type":"rect","fill":"#2ed4da","cornerRadius":5},
 "encoding":{"x":{"datum":2.222,"type":"quantitative","scale":{"domain":[-0.466,10],"nice":false,"zero":false},"axis":null},"x2":{"datum":2.55},"y":{"datum":-4.14,"type":"quantitative","scale":{"domain":[-4.93,4.452],"nice":false,"zero":false},"axis":null},"y2":{"datum":-4.39}}},
{"data":{"values":[{}]},"mark":{"type":"rect","fill":"#9c1010","cornerRadius":5},
 "encoding":{"x":{"datum":0.03,"type":"quantitative","scale":{"domain":[-0.466,10],"nice":false,"zero":false},"axis":null},"x2":{"datum":0.39},"y":{"datum":-4.55,"type":"quantitative","scale":{"domain":[-4.93,4.452],"nice":false,"zero":false},"axis":null},"y2":{"datum":-4.8}}},
{"data":{"values":[{}]},"mark":{"type":"rect","fill":"#2ed4da","cornerRadius":5},
 "encoding":{"x":{"datum":7.957,"type":"quantitative","scale":{"domain":[-0.466,10],"nice":false,"zero":false},"axis":null},"x2":{"datum":8.285},"y":{"datum":-4.14,"type":"quantitative","scale":{"domain":[-4.93,4.452],"nice":false,"zero":false},"axis":null},"y2":{"datum":-4.39}}},
{"data":{"values":[{}]},"mark":{"type":"text","text":"1","font":"DejaVu Sans","fontWeight":"bold","fontSize":10,"color":"#00005a","align":"center","baseline":"middle"},
 "encoding":{"x":{"datum":0.21,"type":"quantitative","scale":{"domain":[-0.466,10],"nice":false,"zero":false},"axis":null},"y":{"datum":-4.266,"type":"quantitative","scale":{"domain":[-4.93,4.452],"nice":false,"zero":false},"axis":null}}},
{"data":{"values":[{}]},"mark":{"type":"text","text":"2","font":"DejaVu Sans","fontWeight":"bold","fontSize":10,"color":"#004a50","align":"center","baseline":"middle"},
 "encoding":{"x":{"datum":2.386,"type":"quantitative","scale":{"domain":[-0.466,10],"nice":false,"zero":false},"axis":null},"y":{"datum":-4.266,"type":"quantitative","scale":{"domain":[-4.93,4.452],"nice":false,"zero":false},"axis":null}}},
{"data":{"values":[{}]},"mark":{"type":"text","text":"M","font":"DejaVu Sans","fontWeight":"bold","fontSize":10,"color":"#e05050","align":"center","baseline":"middle"},
 "encoding":{"x":{"datum":0.21,"type":"quantitative","scale":{"domain":[-0.466,10],"nice":false,"zero":false},"axis":null},"y":{"datum":-4.678,"type":"quantitative","scale":{"domain":[-4.93,4.452],"nice":false,"zero":false},"axis":null}}},
{"data":{"values":[{}]},"mark":{"type":"text","text":"2","font":"DejaVu Sans","fontWeight":"bold","fontSize":10,"color":"#004a50","align":"center","baseline":"middle"},
 "encoding":{"x":{"datum":8.121,"type":"quantitative","scale":{"domain":[-0.466,10],"nice":false,"zero":false},"axis":null},"y":{"datum":-4.266,"type":"quantitative","scale":{"domain":[-4.93,4.452],"nice":false,"zero":false},"axis":null}}},
{"data":{"values":[{}]},"mark":{"type":"text","text":"200mA ∿","font":"DejaVu Sans","fontSize":12,"color":"#3434cc","align":"left","baseline":"middle"},
 "encoding":{"x":{"datum":0.645,"type":"quantitative","scale":{"domain":[-0.466,10],"nice":false,"zero":false},"axis":null},"y":{"datum":-4.266,"type":"quantitative","scale":{"domain":[-4.93,4.452],"nice":false,"zero":false},"axis":null}}},
{"data":{"values":[{}]},"mark":{"type":"text","text":"1.00 V ∿","font":"DejaVu Sans","fontSize":12,"color":"#38c4cc","align":"left","baseline":"middle"},
 "encoding":{"x":{"datum":2.778,"type":"quantitative","scale":{"domain":[-0.466,10],"nice":false,"zero":false},"axis":null},"y":{"datum":-4.266,"type":"quantitative","scale":{"domain":[-4.93,4.452],"nice":false,"zero":false},"axis":null}}},
{"data":{"values":[{}]},"mark":{"type":"text","text":"2.00mV","font":"DejaVu Sans","fontSize":12,"color":"#a82020","align":"left","baseline":"middle"},
 "encoding":{"x":{"datum":0.645,"type":"quantitative","scale":{"domain":[-0.466,10],"nice":false,"zero":false},"axis":null},"y":{"datum":-4.678,"type":"quantitative","scale":{"domain":[-4.93,4.452],"nice":false,"zero":false},"axis":null}}},
{"data":{"values":[{}]},"mark":{"type":"text","text":"500 Hz","font":"DejaVu Sans","fontSize":12,"color":"#a82020","align":"left","baseline":"middle"},
 "encoding":{"x":{"datum":2.778,"type":"quantitative","scale":{"domain":[-0.466,10],"nice":false,"zero":false},"axis":null},"y":{"datum":-4.678,"type":"quantitative","scale":{"domain":[-4.93,4.452],"nice":false,"zero":false},"axis":null}}},
{"data":{"values":[{}]},"mark":{"type":"text","text":"4.00ms","font":"DejaVu Sans","fontSize":12.5,"color":"#222222","align":"left","baseline":"middle"},
 "encoding":{"x":{"datum":4.39,"type":"quantitative","scale":{"domain":[-0.466,10],"nice":false,"zero":false},"axis":null},"y":{"datum":-4.266,"type":"quantitative","scale":{"domain":[-4.93,4.452],"nice":false,"zero":false},"axis":null}}},
{"data":{"values":[{}]},"mark":{"type":"text","text":"25.0MS/s","font":"DejaVu Sans","fontSize":12,"color":"#222222","align":"left","baseline":"middle"},
 "encoding":{"x":{"datum":6.254,"type":"quantitative","scale":{"domain":[-0.466,10],"nice":false,"zero":false},"axis":null},"y":{"datum":-4.266,"type":"quantitative","scale":{"domain":[-4.93,4.452],"nice":false,"zero":false},"axis":null}}},
{"data":{"values":[{}]},"mark":{"type":"text","text":"ʃ","font":"DejaVu Sans","fontWeight":"bold","fontSize":12,"color":"#111111","align":"left","baseline":"middle"},
 "encoding":{"x":{"datum":8.53,"type":"quantitative","scale":{"domain":[-0.466,10],"nice":false,"zero":false},"axis":null},"y":{"datum":-4.266,"type":"quantitative","scale":{"domain":[-4.93,4.452],"nice":false,"zero":false},"axis":null}}},
{"data":{"values":[{}]},"mark":{"type":"point","shape":"square","filled":true,"size":60,"color":"#f0a22a","opacity":1},
 "encoding":{"x":{"datum":4.42,"type":"quantitative","scale":{"domain":[-0.466,10],"nice":false,"zero":false},"axis":null},"y":{"datum":-4.678,"type":"quantitative","scale":{"domain":[-4.93,4.452],"nice":false,"zero":false},"axis":null}}},
{"data":{"values":[{}]},"mark":{"type":"text","text":"→▼8.70280ms","font":"DejaVu Sans","fontSize":12.5,"color":"#e89a1a","align":"left","baseline":"middle"},
 "encoding":{"x":{"datum":4.52,"type":"quantitative","scale":{"domain":[-0.466,10],"nice":false,"zero":false},"axis":null},"y":{"datum":-4.678,"type":"quantitative","scale":{"domain":[-4.93,4.452],"nice":false,"zero":false},"axis":null}}},
{"data":{"values":[{}]},"mark":{"type":"text","text":"1M points","font":"DejaVu Sans","fontSize":12,"color":"#222222","align":"left","baseline":"middle"},
 "encoding":{"x":{"datum":6.254,"type":"quantitative","scale":{"domain":[-0.466,10],"nice":false,"zero":false},"axis":null},"y":{"datum":-4.678,"type":"quantitative","scale":{"domain":[-4.93,4.452],"nice":false,"zero":false},"axis":null}}},
{"data":{"values":[{}]},"mark":{"type":"text","text":"-240mV","font":"DejaVu Sans","fontSize":12,"color":"#222222","align":"left","baseline":"middle"},
 "encoding":{"x":{"datum":8.011,"type":"quantitative","scale":{"domain":[-0.466,10],"nice":false,"zero":false},"axis":null},"y":{"datum":-4.678,"type":"quantitative","scale":{"domain":[-4.93,4.452],"nice":false,"zero":false},"axis":null}}}
]
}
